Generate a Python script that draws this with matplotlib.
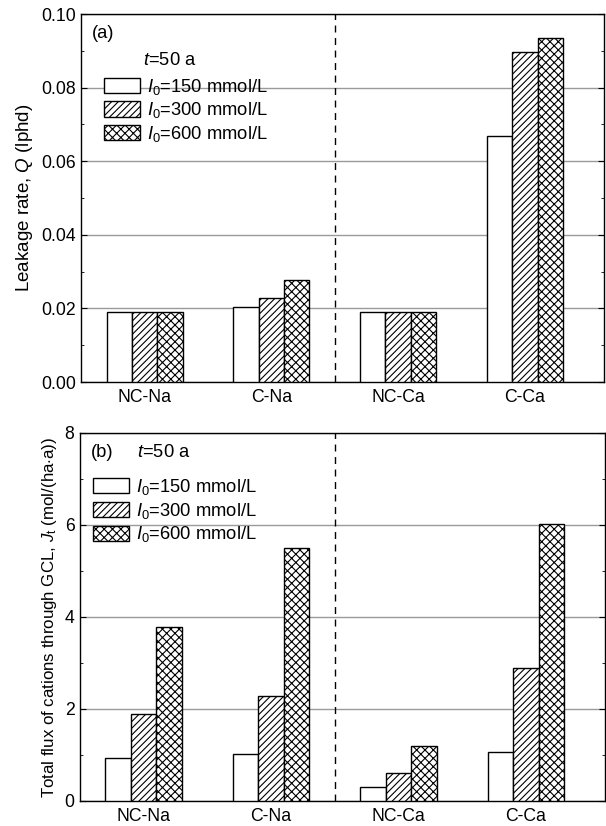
import matplotlib
matplotlib.use('Agg')
import matplotlib.pyplot as plt
from matplotlib.patches import Patch
import numpy as np

plt.rcParams['font.family'] = ['Liberation Sans', 'DejaVu Sans']
plt.rcParams['mathtext.fontset'] = 'custom'
plt.rcParams['mathtext.rm'] = 'Liberation Sans'
plt.rcParams['mathtext.it'] = 'Liberation Sans:italic'
plt.rcParams['hatch.linewidth'] = 0.8
plt.rcParams['font.size'] = 12.7

# categories and data
categories = ['NC-Na', 'C-Na', 'NC-Ca', 'C-Ca']
series_labels = [r'$I_0$=150 mmol/L', r'$I_0$=300 mmol/L', r'$I_0$=600 mmol/L']
leakage_150 = [0.0189, 0.0205, 0.0189, 0.0668]
leakage_300 = [0.0189, 0.0229, 0.0189, 0.0898]
leakage_600 = [0.0189, 0.0277, 0.0189, 0.0936]
flux_150 = [0.94, 1.02, 0.30, 1.07]
flux_300 = [1.89, 2.28, 0.60, 2.89]
flux_600 = [3.78, 5.50, 1.20, 6.03]

hatches = ['', '/////', 'xxxx']
width = 0.2
x = np.arange(1, len(categories) + 1)

fig = plt.figure(figsize=(6.06, 8.26), dpi=100)
ax1 = fig.add_axes([0.134, 0.5375, 0.862, 0.4455])
ax2 = fig.add_axes([0.132, 0.0303, 0.866, 0.4455])


def draw_panel(ax, data, ylim, major, minor, ylabel, ylsize, tag, leg_y, leg_x, title_x, title_y):
    for i, vals in enumerate(data):
        ax.bar(x + (i - 1) * width, vals, width, facecolor='white', edgecolor='black',
               hatch=hatches[i], linewidth=1.0, zorder=3)
    ax.set_xlim(0.5, 4.62)
    ax.set_ylim(*ylim)
    ax.set_yticks(major)
    ax.set_yticks(minor, minor=True)
    ax.yaxis.grid(True, color='#9a9a9a', linewidth=1.0, zorder=0)
    ax.axvline(2.5, color='black', linestyle=(0, (5, 4)), linewidth=1.0, zorder=2)
    ax.set_xticks(x)
    ax.set_xticklabels(categories)
    ax.tick_params(axis='x', length=0, pad=5)
    ax.tick_params(axis='y', which='both', direction='in', right=True, pad=4)
    ax.tick_params(axis='y', which='major', length=4)
    ax.tick_params(axis='y', which='minor', length=2.5)
    for s in ax.spines.values():
        s.set_linewidth(1.0)
    ax.set_ylabel(ylabel, fontsize=ylsize, labelpad=4)
    ax.text(0.021, 0.948, tag, transform=ax.transAxes, fontsize=13.2, va='center', ha='left')
    ax.text(title_x, title_y, r'$t$=50 a', transform=ax.transAxes, fontsize=13.2,
            va='center', ha='left')
    handles = [Patch(facecolor='white', edgecolor='black', hatch=h, linewidth=1.0) for h in hatches]
    ax.legend(handles, series_labels, loc='upper left', bbox_to_anchor=(leg_x, leg_y),
              frameon=False, borderpad=0, borderaxespad=0, handlelength=1.95,
              handleheight=0.9, handletextpad=0.39, labelspacing=0.2, fontsize=13.2)


draw_panel(ax1, [leakage_150, leakage_300, leakage_600], (0, 0.10),
           [0.00, 0.02, 0.04, 0.06, 0.08, 0.10], np.arange(0.01, 0.10, 0.02),
           r'Leakage rate, $Q$ (lphd)', 13.5, '(a)', 0.83, 0.044, 0.119, 0.875)
ax1.set_yticklabels(['0.00', '0.02', '0.04', '0.06', '0.08', '0.10'])

draw_panel(ax2, [flux_150, flux_300, flux_600], (0, 8),
           [0, 2, 4, 6, 8], [1, 3, 5, 7],
           r'Total flux of cations through GCL, $J_\mathrm{t}$ (mol/(ha$\cdot$a))', 12.2, '(b)',
           0.88, 0.025, 0.109, 0.948)

fig.savefig('out.png', dpi=100)
